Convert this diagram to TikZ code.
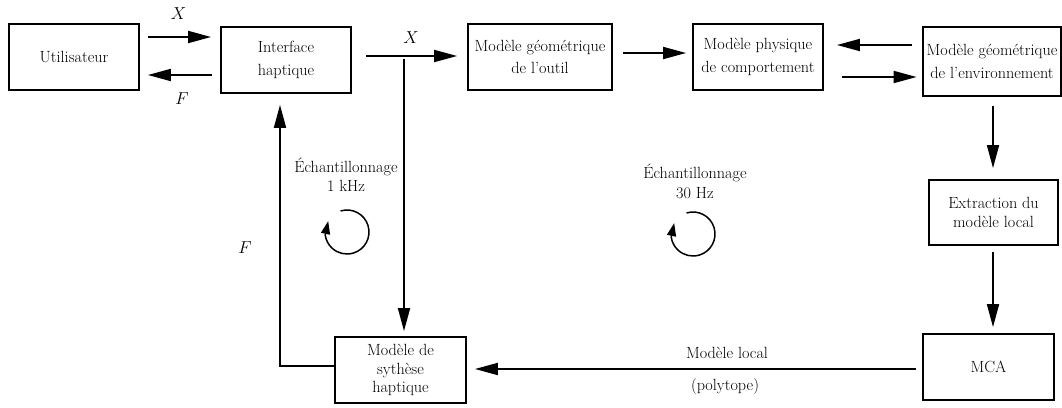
\documentclass[tikz,border=0pt]{standalone}
\usetikzlibrary{arrows.meta,calc}
\begin{document}
\begin{tikzpicture}[x=1pt,y=-1pt,
  box/.style={draw,line width=1.8pt,align=center,inner sep=0pt,font=\fontsize{16.2}{22.5}\selectfont},
  tight/.style={font=\fontsize{16.2}{18.3}\selectfont},
  arr/.style={line width=1.8pt,-{Triangle[length=23pt,width=12pt]}},
  lbl/.style={font=\fontsize{16.2}{19.5}\selectfont,align=center,inner sep=0pt},
  circarr/.style={line width=1.5pt,-{Triangle[length=13pt,width=9pt]}}]
\useasboundingbox (0,0) rectangle (1062,407);
\node[box,minimum width=130pt,minimum height=66pt] (u) at (74,57) {Utilisateur};
\node[box,minimum width=130pt,minimum height=66pt] (ih) at (286,60) {Interface\\haptique};
\node[box,minimum width=144pt,minimum height=66pt] (mgo) at (540,57) {Modèle géométrique\\de l'outil};
\node[box,minimum width=130pt,minimum height=66pt] (mp) at (758,57) {Modèle physique\\de comportement};
\node[box,minimum width=138pt,minimum height=69pt] (mge) at (992,61.5) {Modèle géométrique\\de l'environnement};
\node[box,tight,minimum width=129pt,minimum height=65pt] (ex) at (993.5,212.5) {Extraction du\\modèle local};
\node[box,minimum width=131pt,minimum height=66pt] (mca) at (988.5,367) {MCA};
\node[box,tight,minimum width=131pt,minimum height=66pt] (ms) at (400.5,370) {Modèle de\\sythèse\\haptique};
% arrows
\draw[arr,shorten <=8pt,shorten >=9pt] (u.east |- 0,37) -- (ih.west |- 0,37);
\draw[arr,shorten <=8pt,shorten >=8pt] (ih.west |- 0,75) -- (u.east |- 0,75);
\draw[arr,shorten <=14pt,shorten >=10pt] (ih.east |- 0,56) -- (mgo.west |- 0,56);
\draw[arr,shorten <=10pt,shorten >=6pt] (mgo.east |- 0,53) -- (mp.west |- 0,53);
\draw[arr,shorten <=10pt,shorten >=13pt] (mge.west |- 0,45) -- (mp.east |- 0,45);
\draw[arr,shorten <=18pt,shorten >=5.5pt] (mp.east |- 0,77) -- (mge.west |- 0,77);
\draw[arr,shorten <=9pt,shorten >=11pt] (993,0 |- mge.south) -- (993,0 |- ex.north);
\draw[arr,shorten <=6pt,shorten >=6pt] (993,0 |- ex.south) -- (993,0 |- mca.north);
\draw[arr,shorten <=6pt,shorten >=8pt] (mca.west |- 0,369) -- (ms.east |- 0,369);
\coordinate (vtop) at (404,59);
\draw[arr,shorten >=5pt] (vtop) -- (vtop |- ms.north);
\draw[arr,shorten >=11pt] (ms.west |- 0,366) -- (280,366) -- (280,0 |- ih.south);
% labels
\node[lbl] (lx1) at (178.5,13.5) {$X$};
\node[lbl] (lf1) at (182,98.5) {$F$};
\node[lbl] (lx2) at (411,38) {$X$};
\node[lbl] (lf2) at (245,248) {$F$};
\node[lbl] (e1) at (346,174.5) {Échantillonnage\\1 kHz};
\node[lbl] (e2) at (695,181.5) {Échantillonnage\\30 Hz};
\node[lbl] (ml) at (727,353) {Modèle local};
\node[lbl] (pt) at (725,386) {(polytope)};
% rotation arrows
\coordinate (c1) at (347,232);
\coordinate (c2) at (693,234);
\draw[circarr] (c1) ++(-107:22) arc (-107:172:22) -- ++(3,-14);
\draw[circarr] (c2) ++(-107:22) arc (-107:172:22) -- ++(3,-14);
\end{tikzpicture}
\end{document}
